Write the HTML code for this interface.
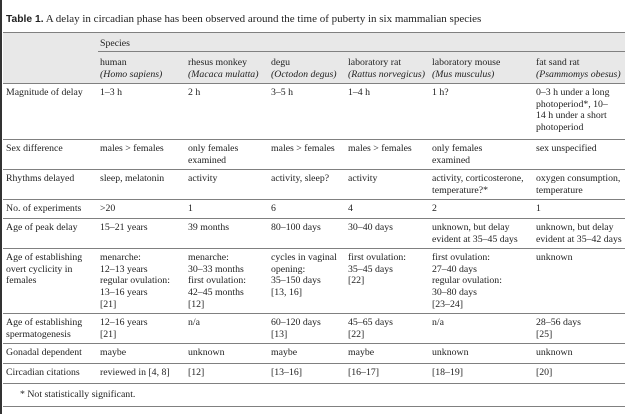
<!DOCTYPE html>
<html><head><meta charset="utf-8"><style>
body{margin:0;width:640px;height:414px;background:#fff;position:relative;overflow:hidden;font-family:"Liberation Serif",serif;color:#222}
.t{position:absolute;font-size:9.8px;line-height:11.7px;white-space:nowrap}
.r{position:absolute;left:3px;width:622px;height:1.4px;background:#808080}
i{font-style:italic}
</style></head><body>
<div style="position:absolute;left:0;top:0;width:2px;height:414px;background:#333"></div>
<div class="t" style="left:6px;top:12px;font-size:11px;line-height:14px"><b style="font-family:'Liberation Sans',sans-serif;font-size:10.3px">Table 1.</b> A delay in circadian phase has been observed around the time of puberty in six mammalian species</div>
<div style="position:absolute;left:3px;top:33px;width:622px;height:50px;background:#e8e8e8"></div>
<div class="r" style="top:32px"></div>
<div style="position:absolute;left:98px;top:51px;width:527px;height:1.2px;background:#808080"></div>
<div class="r" style="top:83px"></div>
<div class="r" style="top:139px"></div>
<div class="r" style="top:169px"></div>
<div class="r" style="top:199px"></div>
<div class="r" style="top:218px"></div>
<div class="r" style="top:248px"></div>
<div class="r" style="top:313px"></div>
<div class="r" style="top:343px"></div>
<div class="r" style="top:363px"></div>
<div class="r" style="top:383px"></div>
<div class="r" style="top:406px"></div>

<div class="t" style="left:100px;top:38px">Species</div>
<div class="t" style="left:100px;top:57px">human<br><i>(Homo sapiens)</i></div>
<div class="t" style="left:188px;top:57px">rhesus monkey<br><i>(Macaca mulatta)</i></div>
<div class="t" style="left:271px;top:57px">degu<br><i>(Octodon degus)</i></div>
<div class="t" style="left:348px;top:57px">laboratory rat<br><i>(Rattus norvegicus)</i></div>
<div class="t" style="left:432px;top:57px">laboratory mouse<br><i>(Mus musculus)</i></div>
<div class="t" style="left:536px;top:57px">fat sand rat<br><i>(Psammomys obesus)</i></div>

<div class="t" style="left:6px;top:87px">Magnitude of delay</div>
<div class="t" style="left:100px;top:87px">1–3 h</div>
<div class="t" style="left:188px;top:87px">2 h</div>
<div class="t" style="left:271px;top:87px">3–5 h</div>
<div class="t" style="left:348px;top:87px">1–4 h</div>
<div class="t" style="left:432px;top:87px">1 h?</div>
<div class="t" style="left:536px;top:87px">0–3 h under a long<br>photoperiod*, 10–<br>14 h under a short<br>photoperiod</div>

<div class="t" style="left:6px;top:143px">Sex difference</div>
<div class="t" style="left:100px;top:143px">males &gt; females</div>
<div class="t" style="left:188px;top:143px">only females<br>examined</div>
<div class="t" style="left:271px;top:143px">males &gt; females</div>
<div class="t" style="left:348px;top:143px">males &gt; females</div>
<div class="t" style="left:432px;top:143px">only females<br>examined</div>
<div class="t" style="left:536px;top:143px">sex unspecified</div>

<div class="t" style="left:6px;top:173px">Rhythms delayed</div>
<div class="t" style="left:100px;top:173px">sleep, melatonin</div>
<div class="t" style="left:188px;top:173px">activity</div>
<div class="t" style="left:271px;top:173px">activity, sleep?</div>
<div class="t" style="left:348px;top:173px">activity</div>
<div class="t" style="left:432px;top:173px">activity, corticosterone,<br>temperature?*</div>
<div class="t" style="left:536px;top:173px">oxygen consumption,<br>temperature</div>

<div class="t" style="left:6px;top:203px">No. of experiments</div>
<div class="t" style="left:100px;top:203px">&gt;20</div>
<div class="t" style="left:188px;top:203px">1</div>
<div class="t" style="left:271px;top:203px">6</div>
<div class="t" style="left:348px;top:203px">4</div>
<div class="t" style="left:432px;top:203px">2</div>
<div class="t" style="left:536px;top:203px">1</div>

<div class="t" style="left:6px;top:222px">Age of peak delay</div>
<div class="t" style="left:100px;top:222px">15–21 years</div>
<div class="t" style="left:188px;top:222px">39 months</div>
<div class="t" style="left:271px;top:222px">80–100 days</div>
<div class="t" style="left:348px;top:222px">30–40 days</div>
<div class="t" style="left:432px;top:222px">unknown, but delay<br>evident at 35–45 days</div>
<div class="t" style="left:536px;top:222px">unknown, but delay<br>evident at 35–42 days</div>

<div class="t" style="left:6px;top:252px">Age of establishing<br>overt cyclicity in<br>females</div>
<div class="t" style="left:100px;top:252px">menarche:<br>12–13 years<br>regular ovulation:<br>13–16 years<br>[21]</div>
<div class="t" style="left:188px;top:252px">menarche:<br>30–33 months<br>first ovulation:<br>42–45 months<br>[12]</div>
<div class="t" style="left:271px;top:252px">cycles in vaginal<br>opening:<br>35–150 days<br>[13, 16]</div>
<div class="t" style="left:348px;top:252px">first ovulation:<br>35–45 days<br>[22]</div>
<div class="t" style="left:432px;top:252px">first ovulation:<br>27–40 days<br>regular ovulation:<br>30–80 days<br>[23–24]</div>
<div class="t" style="left:536px;top:252px">unknown</div>

<div class="t" style="left:6px;top:317px">Age of establishing<br>spermatogenesis</div>
<div class="t" style="left:100px;top:317px">12–16 years<br>[21]</div>
<div class="t" style="left:188px;top:317px">n/a</div>
<div class="t" style="left:271px;top:317px">60–120 days<br>[13]</div>
<div class="t" style="left:348px;top:317px">45–65 days<br>[22]</div>
<div class="t" style="left:432px;top:317px">n/a</div>
<div class="t" style="left:536px;top:317px">28–56 days<br>[25]</div>

<div class="t" style="left:6px;top:347px">Gonadal dependent</div>
<div class="t" style="left:100px;top:347px">maybe</div>
<div class="t" style="left:188px;top:347px">unknown</div>
<div class="t" style="left:271px;top:347px">maybe</div>
<div class="t" style="left:348px;top:347px">maybe</div>
<div class="t" style="left:432px;top:347px">unknown</div>
<div class="t" style="left:536px;top:347px">unknown</div>

<div class="t" style="left:6px;top:367px">Circadian citations</div>
<div class="t" style="left:100px;top:367px">reviewed in [4, 8]</div>
<div class="t" style="left:188px;top:367px">[12]</div>
<div class="t" style="left:271px;top:367px">[13–16]</div>
<div class="t" style="left:348px;top:367px">[16–17]</div>
<div class="t" style="left:432px;top:367px">[18–19]</div>
<div class="t" style="left:536px;top:367px">[20]</div>

<div class="t" style="left:20px;top:389px">* Not statistically significant.</div>
</body></html>
